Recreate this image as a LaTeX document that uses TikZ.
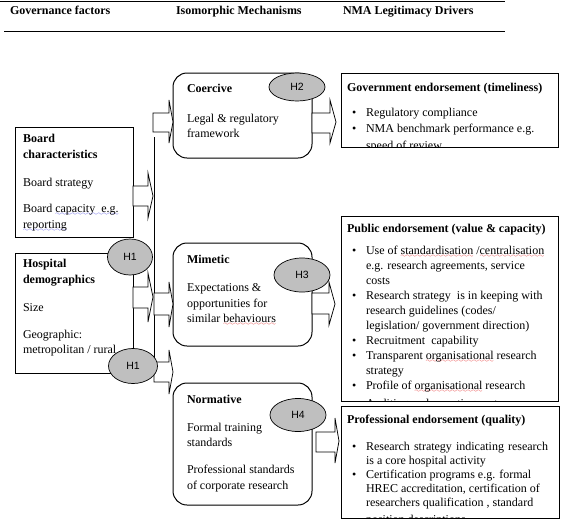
\documentclass[tikz,border=0pt]{standalone}
\usepackage{fontspec}
\setmainfont{Liberation Serif}
\newfontfamily\hfont{Liberation Sans}
\usetikzlibrary{shapes.geometric}
\newlength\sqw
\font\sqfont=lasy6
\newcommand\sq[2]{\leavevmode\settowidth\sqw{#2}\rlap{\color{#1}\raisebox{-3.4pt}{\hbox to\sqw{\xleaders\hbox{\sqfont\char58}\hfil}}}#2}
\definecolor{sqblue}{RGB}{60,60,230}
\definecolor{sqred}{RGB}{230,30,30}
\tikzset{
  txt/.style={anchor=base west, inner sep=0pt, outer sep=0pt, font=\fontsize{12}{14}\selectfont},
  bt/.style={txt, font=\fontsize{12}{14}\selectfont\bfseries},
  sqbox/.style={draw, fill=white, line width=1pt, inner sep=0pt, outer sep=0pt, anchor=north west},
  rbox/.style={sqbox, rounded corners=14pt},
  hell/.style={ellipse, draw, fill=gray!50, line width=0.7pt, inner sep=0pt, font=\hfont\fontsize{10.5}{12}\selectfont},
  barrow/.style={draw, fill=white, line width=0.75pt, line join=miter},
}
\newcommand\barr[8]{\draw[barrow] (#1,#4) -- (#2,#4) -- (#2,#6) -- (#3,#8) -- (#2,#7) -- (#2,#5) -- (#1,#5) -- cycle;}
\begin{document}
\begin{tikzpicture}[x=1pt,y=-1pt]
\useasboundingbox (0,0) rectangle (575,523);
% header
\coordinate (tl1) at (0,1.5); \coordinate (tl2) at (505,1.5);
\coordinate (bl1) at (4,31); \coordinate (bl2) at (505,31);
\draw[line width=1pt] (tl1) -- (tl2);
\draw[line width=1pt] (bl1) -- (bl2);
\node[bt] (g1) at (10,14) {Governance factors};
\node[bt] (g2) at (176,14) {Isomorphic Mechanisms};
\node[bt] (g3) at (343,14) {NMA Legitimacy Drivers};

% boxes
\node[sqbox, minimum width=118pt, minimum height=110pt] (board) at (15,127) {};
\node[sqbox, minimum width=118pt, minimum height=120pt] (hosp) at (15,253) {};
\node[rbox, minimum width=139pt, minimum height=85pt] (coer) at (173,73) {};
\node[rbox, minimum width=139pt, minimum height=103pt] (mim) at (173,243) {};
\node[rbox, minimum width=139pt, minimum height=122pt] (norm) at (173,383) {};
\node[sqbox, minimum width=217pt, minimum height=74pt] (gov) at (341,73) {};
\node[sqbox, minimum width=217pt, minimum height=185pt] (pub) at (341,216) {};
\node[sqbox, minimum width=218pt, minimum height=112pt] (prof) at (341,406) {};

% bus line
\coordinate (bt) at (154,137); \coordinate (bb) at (154,382);
\draw[line width=1pt] (bt) -- (bb);

% block arrows
\barr{153}{169}{173}{113}{132}{100}{143}{122}
\barr{133}{148}{153}{186}{206}{173}{218}{196}
\barr{133}{148}{153}{287}{308}{273}{322}{297}
\barr{154}{169}{173}{293}{315}{282}{327}{304}
\barr{154}{169}{173}{362}{382}{350}{394}{372}
\barr{312}{330}{336}{113}{133}{100}{143}{122}
\barr{312}{329}{335}{293}{314}{282}{325}{304}
\barr{316}{335}{339}{432}{452}{418}{463}{441}

% board text
\node[bt] (b1) at (23,142) {Board};
\node[bt] (b2) at (23,158) {characteristics};
\node[txt] (b3) at (23,186) {Board strategy};
\node[txt] (b4) at (23,212) {Board \sq{sqblue}{capacity\ \ e.g.}};
\node[txt] (b5) at (23,228) {\sq{sqblue}{reporting}};
% hospital text
\node[bt] (h1t) at (23,267) {Hospital};
\node[bt] (h2t) at (23,283) {demographics};
\node[txt] (h3t) at (23,311) {Size};
\node[txt] (h4t) at (23,338) {Geographic:};
\node[txt] (h5t) at (23,353) {metropolitan / rural};
% coercive
\node[bt] (c1) at (187,92) {Coercive};
\node[txt] (c2) at (187,122) {Legal \& regulatory};
\node[txt] (c3) at (187,137) {framework};
% mimetic
\node[bt] (m1) at (187,263) {Mimetic};
\node[txt] (m2) at (187,291) {Expectations \&};
\node[txt] (m3) at (187,307) {opportunities for};
\node[txt] (m4) at (187,322) {similar \sq{sqred}{behaviours}};
% normative
\node[bt] (n1) at (187,403) {Normative};
\node[txt] (n2) at (187,431) {Formal training};
\node[txt] (n3) at (187,446) {standards};
\node[txt] (n4) at (187,473) {Professional standards};
\node[txt] (n5) at (187,489) {of corporate research};

% government
\begin{scope}
\clip (341.5,73.5) rectangle (557.5,146.5);
\node[bt] (v0) at (347,91) {Government endorsement (timeliness)};
\node[txt] (vb1) at (352,116) {\textbullet};
\node[txt] (v1) at (366,116) {Regulatory compliance};
\node[txt] (vb2) at (352,132) {\textbullet};
\node[txt] (v2) at (366,132) {NMA benchmark performance e.g.};
\node[txt] (v3) at (366,149.5) {speed of review};
\end{scope}

% public
\begin{scope}
\clip (341.5,216.5) rectangle (557.5,400.5);
\node[bt] (p0) at (347,232) {Public endorsement (value \& capacity)};
\node[txt] (pb1) at (352,254) {\textbullet};
\node[txt] (p1) at (366,254) {Use of \sq{sqred}{standardisation} /\sq{sqred}{centralisation}};
\node[txt] (p2) at (366,269) {e.g. research agreements, service};
\node[txt] (p3) at (366,284) {costs};
\node[txt] (pb4) at (352,299) {\textbullet};
\node[txt] (p4) at (366,299) {Research strategy\ \ is in keeping with};
\node[txt] (p5) at (366,314) {research guidelines (codes/};
\node[txt] (p6) at (366,329) {legislation/ government direction)};
\node[txt] (pb7) at (352,344) {\textbullet};
\node[txt] (p7) at (366,344) {Recruitment\ \ capability};
\node[txt] (pb8) at (352,359) {\textbullet};
\node[txt] (p8) at (366,359) {Transparent \sq{sqred}{organisational} research};
\node[txt] (p9) at (366,374) {strategy};
\node[txt] (pb10) at (352,389) {\textbullet};
\node[txt] (p10) at (366,389) {Profile of \sq{sqred}{organisational} research};
\node[txt] (pb11) at (352,407) {\textbullet};
\node[txt] (p11) at (366,407) {Auditing and reporting systems};
\end{scope}

% professional
\begin{scope}
\clip (341.5,406.5) rectangle (558.5,517.5);
\node[bt] (r0) at (347,423) {Professional endorsement (quality)};
\node[txt] (rb1) at (352,450) {\textbullet};
\node[txt] (r1) at (366,450) {\makebox[182pt][s]{Research strategy indicating research}};
\node[txt] (r2) at (366,464) {is a core hospital activity};
\node[txt] (rb3) at (352,478) {\textbullet};
\node[txt] (r3) at (366,478) {Certification programs e.g. formal};
\node[txt] (r4) at (366,492) {HREC accreditation, certification of};
\node[txt] (r5) at (366,506) {researchers qualification , standard};
\node[txt] (r6) at (366,523) {position descriptions};
\end{scope}

% hypothesis ellipses
\node[hell, minimum width=45pt, minimum height=36pt] (e1) at (130,257) {H1};
\node[hell, minimum width=49pt, minimum height=35pt] (e2) at (133,366) {H1};
\node[hell, minimum width=56pt, minimum height=28pt] (e3) at (297,87) {H2};
\node[hell, minimum width=56pt, minimum height=34pt] (e4) at (302,275) {H3};
\node[hell, minimum width=56pt, minimum height=33pt] (e5) at (298,415) {H4};
\end{tikzpicture}
\end{document}
